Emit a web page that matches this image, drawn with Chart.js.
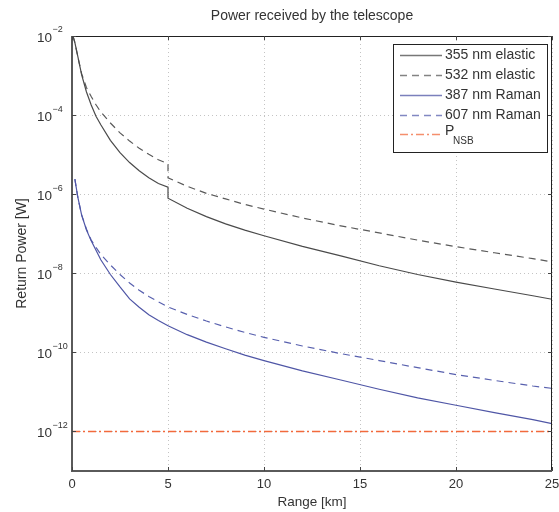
<!DOCTYPE html>
<html>
<head>
<meta charset="utf-8">
<script src="https://cdn.jsdelivr.net/npm/chart.js@4.4.1/dist/chart.umd.min.js"></script>
<style>
  html, body { margin: 0; padding: 0; background: #fff; }
</style>
</head>
<body>
<canvas id="powerChart" width="559" height="512"></canvas>
<script>
// range grid in km (5 km appears twice: the signal steps down at the top of the aerosol layer)
const rangeKm = [0.05, 0.15, 0.3, 0.5, 0.75, 1, 1.25, 1.5, 2, 2.5, 3, 3.5, 4, 4.5, 5, 5,
  6, 7, 8, 9, 10, 12, 14, 16, 18, 20, 22, 24, 25];

// return power [W]
const elastic355 = [1.0e-2, 6.8e-3, 3.1e-3, 1.05e-3, 3.9e-4, 1.8e-4, 9.3e-5, 5.7e-5, 2.3e-5, 1.12e-5,
  6.3e-6, 3.9e-6, 2.6e-6, 1.86e-6, 1.5e-6, 7.9e-7,
  4.4e-7, 2.7e-7, 1.78e-7, 1.23e-7, 8.9e-8, 4.8e-8, 2.75e-8, 1.55e-8, 9.3e-9, 6.0e-9, 4.0e-9, 2.7e-9, 2.2e-9];
const elastic532 = [1.0e-2, 6.8e-3, 3.0e-3, 1.12e-3, 5.0e-4, 2.95e-4, 1.82e-4, 1.2e-4, 6.3e-5, 3.55e-5,
  2.2e-5, 1.45e-5, 1.02e-5, 7.4e-6, 5.9e-6, 2.6e-6,
  1.58e-6, 1.05e-6, 7.6e-7, 5.5e-7, 4.2e-7, 2.5e-7, 1.58e-7, 1.05e-7, 6.9e-8, 4.7e-8, 3.3e-8, 2.35e-8, 1.95e-8];
const raman387 = [null, 2.4e-6, 8.5e-7, 3.0e-7, 1.26e-7, 6.6e-8, 3.8e-8, 2.2e-8, 9.3e-9, 4.5e-9,
  2.25e-9, 1.38e-9, 8.9e-10, 6.4e-10, 4.7e-10, 4.7e-10,
  2.8e-10, 1.82e-10, 1.23e-10, 8.5e-11, 6.2e-11, 3.4e-11, 2.0e-11, 1.17e-11, 7.1e-12, 4.6e-12, 3.0e-12, 2.0e-12, 1.58e-12];
const raman607 = [null, 2.4e-6, 8.5e-7, 3.0e-7, 1.32e-7, 6.9e-8, 4.5e-8, 3.0e-8, 1.62e-8, 9.3e-9,
  5.7e-9, 3.7e-9, 2.6e-9, 1.9e-9, 1.41e-9, 1.41e-9,
  9.1e-10, 6.2e-10, 4.4e-10, 3.2e-10, 2.4e-10, 1.45e-10, 9.3e-11, 6.2e-11, 4.1e-11, 2.75e-11, 1.95e-11, 1.41e-11, 1.23e-11];
const nsbRange = [0, 25];
const nsbPower = [1e-12, 1e-12];

const xTicks = [0, 5, 10, 15, 20, 25];
const yExponents = [-2, -4, -6, -8, -10, -12];

const FONT = '"Liberation Sans", Arial, sans-serif';
const TEXT = '#333';

function toPoints(xs, ys) {
  return xs.map((x, i) => ({ x: x, y: ys[i] })).filter(p => p.y !== null);
}

const series = [
  { label: '355 nm elastic', data: toPoints(rangeKm, elastic355), color: '#4a4a4a', dash: [], width: 1.2 },
  { label: '532 nm elastic', data: toPoints(rangeKm, elastic532), color: '#5a5a5a', dash: [7, 5], width: 1.2 },
  { label: '387 nm Raman', data: toPoints(rangeKm, raman387), color: '#4f56a6', dash: [], width: 1.2 },
  { label: '607 nm Raman', data: toPoints(rangeKm, raman607), color: '#5860ae', dash: [7, 5], width: 1.2 },
  { label: 'P', sub: 'NSB', data: toPoints(nsbRange, nsbPower), color: '#f26a3c', dash: [8, 3, 2, 3], width: 1.4 }
];

// axes box, inward ticks, y labels, title and legend, drawn like the original figure
const figurePlugin = {
  id: 'figure',
  afterDraw(chart) {
    const ctx = chart.ctx;
    const a = chart.chartArea;
    const xs = chart.scales.x, ys = chart.scales.y;
    ctx.save();

    // box
    ctx.strokeStyle = '#222';
    ctx.lineWidth = 1;
    ctx.beginPath();
    ctx.moveTo(a.left, a.top + 0.5); ctx.lineTo(a.right, a.top + 0.5);
    ctx.moveTo(a.right - 0.5, a.top); ctx.lineTo(a.right - 0.5, a.bottom);
    ctx.stroke();
    ctx.strokeStyle = '#5a5a5a';
    ctx.lineWidth = 2;
    ctx.beginPath();
    ctx.moveTo(a.left, a.top); ctx.lineTo(a.left, a.bottom);
    ctx.lineTo(a.right, a.bottom);
    ctx.stroke();

    // inward ticks
    ctx.strokeStyle = '#444';
    ctx.lineWidth = 1;
    ctx.beginPath();
    xTicks.forEach(v => {
      const px = Math.round(xs.getPixelForValue(v)) + 0.5;
      ctx.moveTo(px, a.bottom); ctx.lineTo(px, a.bottom - 4);
      ctx.moveTo(px, a.top); ctx.lineTo(px, a.top + 4);
    });
    yExponents.forEach(e => {
      const py = Math.round(ys.getPixelForValue(Math.pow(10, e))) + 0.5;
      ctx.moveTo(a.left, py); ctx.lineTo(a.left + 4, py);
      ctx.moveTo(a.right, py); ctx.lineTo(a.right - 4, py);
    });
    ctx.stroke();

    // y tick labels 10^n
    ctx.fillStyle = TEXT;
    ctx.textBaseline = 'middle';
    ctx.textAlign = 'left';
    yExponents.forEach(e => {
      const py = ys.getPixelForValue(Math.pow(10, e));
      ctx.font = '13.5px ' + FONT;
      ctx.fillText('10', 37, py + 2);
      ctx.font = '9px ' + FONT;
      ctx.fillText('\u2212' + Math.abs(e), 52.5, py - 6);
    });

    // title
    ctx.font = '14px ' + FONT;
    ctx.textAlign = 'center';
    ctx.fillText('Power received by the telescope', (a.left + a.right) / 2, 16);

    // legend
    const bx = a.right - 159, by = a.top + 8, bw = 154, bh = 108;
    ctx.fillStyle = '#fff';
    ctx.fillRect(bx, by, bw, bh);
    ctx.strokeStyle = '#222';
    ctx.lineWidth = 1;
    ctx.strokeRect(bx + 0.5, by + 0.5, bw, bh);
    const rows = [11, 31, 51, 71, 90];
    series.forEach((s, i) => {
      const ry = by + rows[i];
      ctx.globalAlpha = 0.75;
      ctx.strokeStyle = s.color;
      ctx.lineWidth = 1.5;
      ctx.setLineDash(s.dash);
      ctx.beginPath();
      ctx.moveTo(bx + 7, ry + 0.5); ctx.lineTo(bx + 49, ry + 0.5);
      ctx.stroke();
      ctx.setLineDash([]);
      ctx.globalAlpha = 1;
      ctx.fillStyle = TEXT;
      ctx.textAlign = 'left';
      ctx.font = '14px ' + FONT;
      if (s.sub) {
        ctx.fillText(s.label, bx + 52, ry - 3);
        ctx.font = '10px ' + FONT;
        ctx.fillText(s.sub, bx + 60, ry + 7);
      } else {
        ctx.fillText(s.label, bx + 52, ry);
      }
    });
    ctx.restore();
  }
};

new Chart(document.getElementById('powerChart').getContext('2d'), {
  type: 'line',
  data: {
    datasets: series.map(s => ({
      label: s.label,
      data: s.data,
      borderColor: s.color,
      borderWidth: s.width,
      borderDash: s.dash,
      pointRadius: 0,
      fill: false,
      tension: 0
    }))
  },
  options: {
    responsive: false,
    animation: false,
    layout: { padding: { top: 36, right: 7, left: 0, bottom: 0 } },
    plugins: { legend: { display: false }, title: { display: false }, tooltip: { enabled: false } },
    scales: {
      x: {
        type: 'linear',
        min: 0,
        max: 25,
        afterBuildTicks: s => { s.ticks = xTicks.map(v => ({ value: v })); },
        afterFit: s => { s.height = 41; s.paddingLeft = 0; s.paddingRight = 0; },
        ticks: { color: TEXT, font: { family: FONT, size: 13 }, padding: 6, maxRotation: 0 },
        grid: { color: '#c4c4c4', drawTicks: false },
        border: { display: false, dash: [1, 3] },
        title: { display: true, text: 'Range [km]', color: TEXT, font: { family: FONT, size: 13.5 }, padding: { top: 0, bottom: 2 } }
      },
      y: {
        type: 'logarithmic',
        min: 1e-13,
        max: 1e-2,
        afterBuildTicks: s => { s.ticks = yExponents.map(e => ({ value: Math.pow(10, e) })); },
        afterFit: s => { s.width = 72; },
        ticks: { display: false },
        grid: { color: '#c4c4c4', drawTicks: false },
        border: { display: false, dash: [1, 3] },
        title: { display: true, text: 'Return Power [W]', color: TEXT, font: { family: FONT, size: 14 }, padding: { top: 14, bottom: 0 } }
      }
    }
  },
  plugins: [figurePlugin]
});
</script>
</body>
</html>
